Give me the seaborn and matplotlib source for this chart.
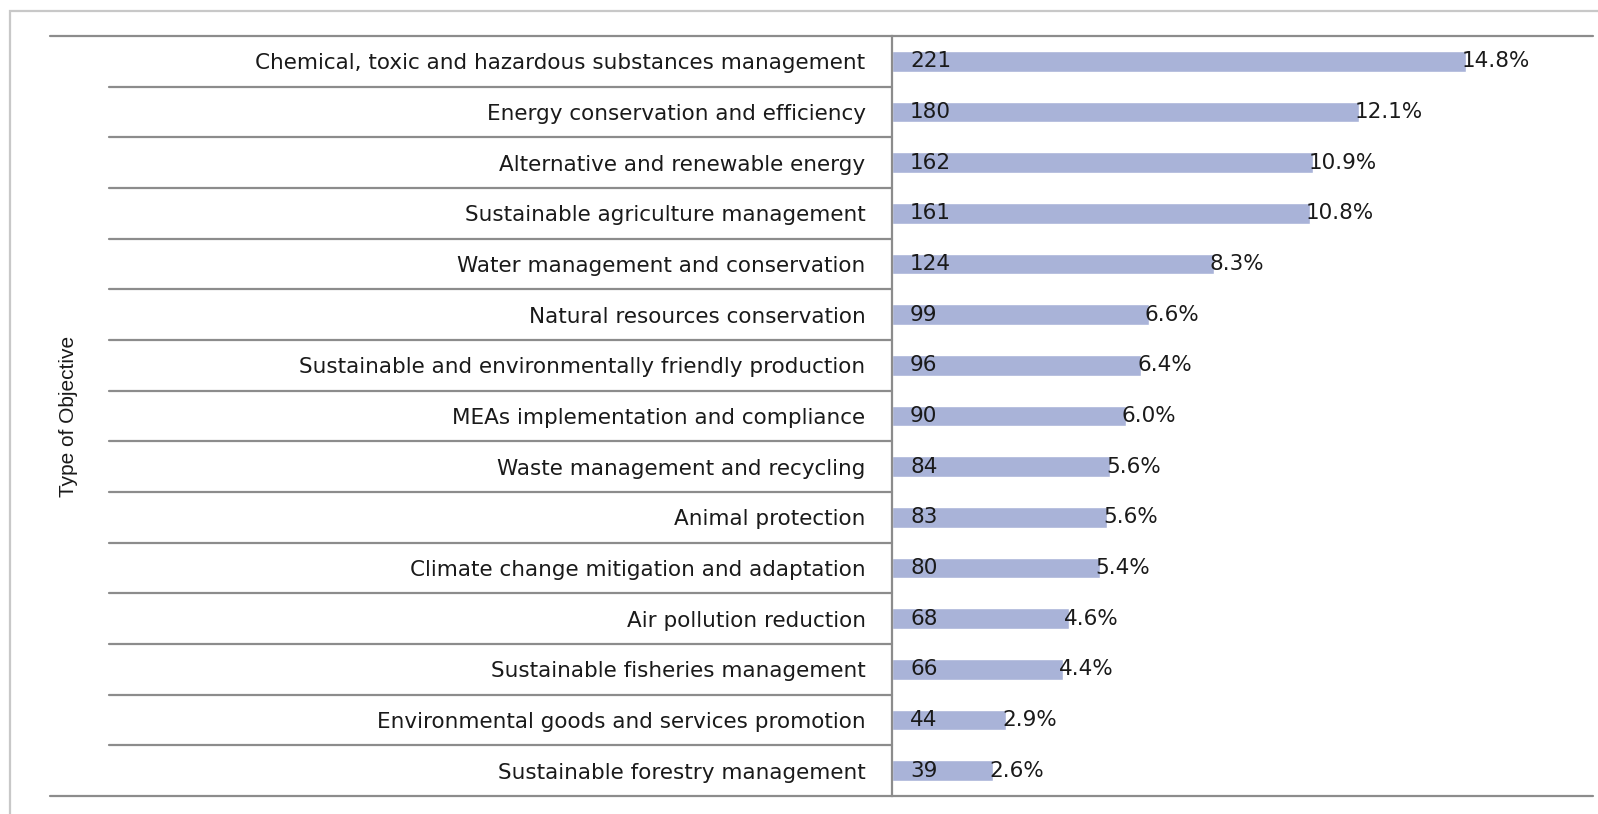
import pandas as pd
import seaborn as sns
import matplotlib.pyplot as plt
from matplotlib.patches import Rectangle
import matplotlib.transforms as mtransforms

# data
objectives = [
    "Chemical, toxic and hazardous substances management",
    "Energy conservation and efficiency",
    "Alternative and renewable energy",
    "Sustainable agriculture management",
    "Water management and conservation",
    "Natural resources conservation",
    "Sustainable and environmentally friendly production",
    "MEAs implementation and compliance",
    "Waste management and recycling",
    "Animal protection",
    "Climate change mitigation and adaptation",
    "Air pollution reduction",
    "Sustainable fisheries management",
    "Environmental goods and services promotion",
    "Sustainable forestry management",
]
counts = [221, 180, 162, 161, 124, 99, 96, 90, 84, 83, 80, 68, 66, 44, 39]
shares = ["14.8%", "12.1%", "10.9%", "10.8%", "8.3%", "6.6%", "6.4%", "6.0%",
          "5.6%", "5.6%", "5.4%", "4.6%", "4.4%", "2.9%", "2.6%"]

df = pd.DataFrame({"Objective": objectives, "Count": counts})

sns.set_theme(style="white")
plt.rcParams['font.family'] = ['DejaVu Sans']

W, H = 1598, 814
fig = plt.figure(figsize=(W / 100, H / 100), dpi=100)
ax = fig.add_axes([892 / W, 1 - 796 / H, (1593 - 892) / W, (796 - 36) / H])

sns.barplot(data=df, y="Objective", x="Count", orient="h", color="#a9b3d8",
            width=0.41, saturation=1, ax=ax)

ax.set_xlim(0, 270)
ax.set_ylim(14.5, -0.5)
ax.set_xlabel("")
ax.set_ylabel("")
ax.set_xticks([])
for s in ["top", "right", "bottom"]:
    ax.spines[s].set_visible(False)
ax.spines["left"].set_color("#8c8c8c")
ax.spines["left"].set_linewidth(1.6)
ax.tick_params(axis="y", length=0, pad=19, labelsize=15.5, labelcolor="#1a1a1a")

# table-like lines
blend = mtransforms.blended_transform_factory(ax.transAxes, ax.transData)
for yv in [-0.5, 14.5]:
    ax.plot([-1.201, 1.0], [yv, yv], color="#8c8c8c", lw=1.6,
            transform=blend, clip_on=False)
for i in range(len(objectives) - 1):
    ax.plot([-1.117, 0], [i + 0.5, i + 0.5], color="#8c8c8c", lw=1.6,
            transform=blend, clip_on=False)

# value labels
for i, (c, p) in enumerate(zip(counts, shares)):
    ax.annotate(str(c), (0, i), xytext=(13, 0), textcoords="offset points",
                ha="left", va="center", fontsize=15.5, color="#1a1a1a")
    ax.annotate(p, (c, i), xytext=(-3, 0), textcoords="offset points",
                ha="left", va="center", fontsize=15.5, color="#1a1a1a")

fig.text(68 / W, 1 - 416 / H, "Type of Objective", rotation=90,
         ha="center", va="center", fontsize=15, color="#1a1a1a",
         family=["Liberation Sans", "DejaVu Sans"])

# outer chart frame
fig.patches.append(Rectangle((10 / W, -0.2), 2, 1.2 - 11 / H,
                             transform=fig.transFigure, fill=False,
                             edgecolor="#c8c8c8", lw=1.6))

fig.savefig("out.png", dpi=100)
